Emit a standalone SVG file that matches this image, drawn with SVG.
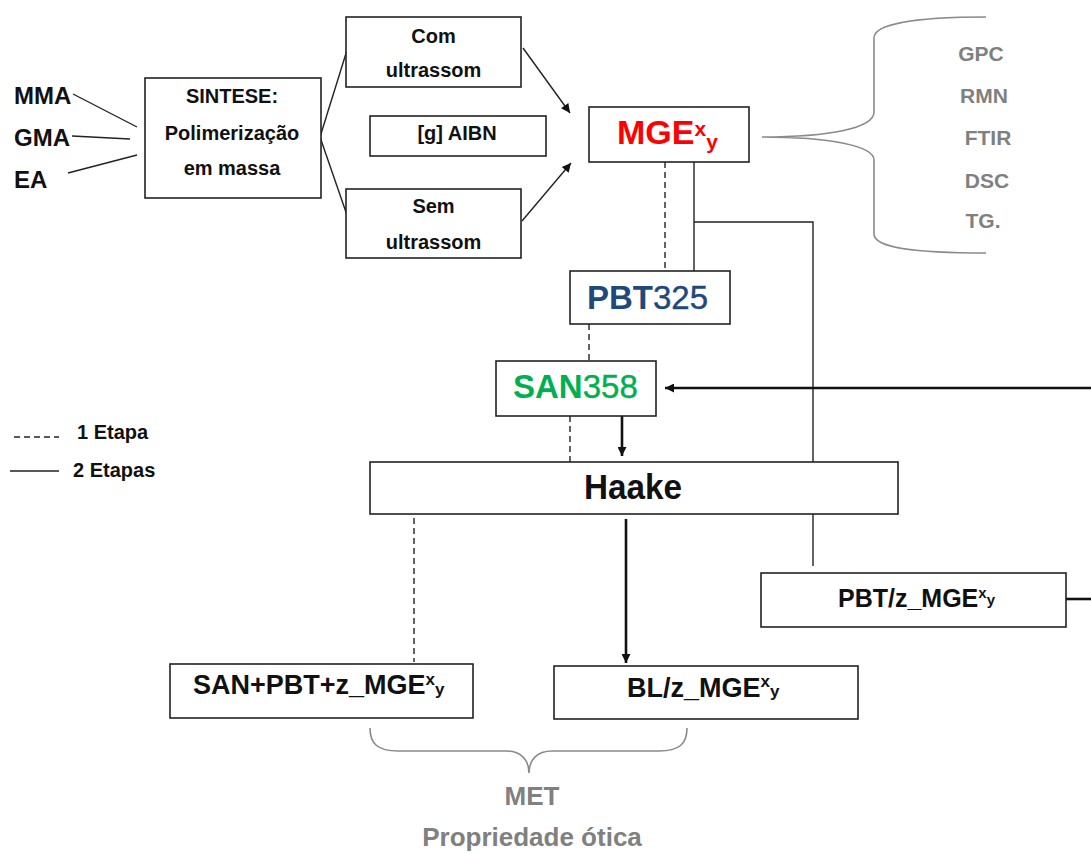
<svg xmlns="http://www.w3.org/2000/svg" width="1091" height="854" viewBox="0 0 1091 854">
<style>
text{font-family:"Liberation Sans",Arial,sans-serif;font-weight:bold;fill:#111}
.box{fill:#fff;stroke:#222;stroke-width:1.6}
.ln{fill:none;stroke:#222;stroke-width:1.4}
.dash{fill:none;stroke:#222;stroke-width:1.4;stroke-dasharray:6 4}
.thick{fill:none;stroke:#111;stroke-width:2.6}
.brace{fill:none;stroke:#8a8a8a;stroke-width:1.6}
.gray{fill:#808080}
.t20{font-size:20px}
.mid{text-anchor:middle}
.semi{font-weight:normal;stroke-width:0.4}
</style>
<defs>
<marker id="ah" viewBox="0 0 10 10" refX="10" refY="5" markerWidth="11" markerHeight="9" markerUnits="userSpaceOnUse" orient="auto"><path d="M0,0 L10,5 L0,10 z" fill="#111"/></marker>
</defs>

<g id="inputs">
<text x="14" y="104" font-size="24">MMA</text>
<text x="14" y="146" font-size="24">GMA</text>
<text x="14" y="188" font-size="24">EA</text>
</g>

<g id="legend">
<line x1="14" y1="437" x2="59" y2="437" class="dash"/>
<text x="77" y="439" class="t20">1 Etapa</text>
<line x1="10" y1="471" x2="59" y2="471" class="ln"/>
<text x="73" y="477" class="t20">2 Etapas</text>
</g>

<g id="connectors">
<line x1="73" y1="94" x2="137" y2="127" class="ln"/>
<line x1="72" y1="136" x2="130" y2="139" class="ln"/>
<line x1="68" y1="173" x2="137" y2="155" class="ln"/>
<line x1="320" y1="137" x2="348" y2="47" class="ln"/>
<line x1="320" y1="137" x2="348" y2="218" class="ln"/>
<line x1="523" y1="48" x2="570" y2="113" class="ln" marker-end="url(#ah)"/>
<line x1="522" y1="221" x2="571" y2="163" class="ln" marker-end="url(#ah)"/>
<line x1="665" y1="162" x2="665" y2="270" class="dash"/>
<line x1="694" y1="162" x2="694" y2="271" class="ln"/>
<path d="M694,222 L813,222 L813,462" class="ln"/>
<line x1="813" y1="514" x2="813" y2="566" class="ln"/>
<line x1="589" y1="324" x2="589" y2="361" class="dash"/>
<line x1="570" y1="416" x2="570" y2="462" class="dash"/>
<line x1="622" y1="416" x2="622" y2="456" class="thick" marker-end="url(#ah)"/>
<line x1="1091" y1="388" x2="665" y2="388" class="thick" marker-end="url(#ah)"/>
<line x1="1066" y1="599" x2="1091" y2="599" class="thick"/>
<line x1="414" y1="518" x2="414" y2="662" class="dash"/>
<line x1="626" y1="519" x2="626" y2="663" class="thick" marker-end="url(#ah)"/>
</g>

<g id="sintese">
<rect x="145" y="78" width="176" height="120" class="box"/>
<text x="232" y="103" class="t20 mid">SINTESE:</text>
<text x="232" y="140" class="t20 mid">Polimerização</text>
<text x="232" y="175" class="t20 mid">em massa</text>
</g>

<g id="com-ultrassom">
<rect x="346" y="17" width="175" height="70" class="box"/>
<text x="433.5" y="43" class="t20 mid">Com</text>
<text x="433.5" y="77" class="t20 mid">ultrassom</text>
</g>

<g id="aibn">
<rect x="370" y="116" width="176" height="40" class="box"/>
<text x="457" y="140" class="t20 mid">[g] AIBN</text>
</g>

<g id="sem-ultrassom">
<rect x="346" y="189" width="175" height="69" class="box"/>
<text x="433.5" y="213" class="t20 mid">Sem</text>
<text x="433.5" y="249" class="t20 mid">ultrassom</text>
</g>

<g id="mge">
<rect x="589" y="107" width="160" height="55" class="box"/>
<text x="617" y="144" font-size="34" style="fill:#ff0000">MGE<tspan font-size="21" dy="-8">x</tspan><tspan font-size="21" dy="13">y</tspan></text>
</g>

<g id="caracterizacao">
<path d="M986,17 C915,17 874,24 874,38 L874,112 C874,128 830,137 762,137 C830,137 874,146 874,160 L874,234 C874,248 915,253 986,253" class="brace"/>
<text x="981" y="61" font-size="21" class="gray mid">GPC</text>
<text x="984" y="103" font-size="21" class="gray mid">RMN</text>
<text x="988" y="145" font-size="21" class="gray mid">FTIR</text>
<text x="987" y="188" font-size="21" class="gray mid">DSC</text>
<text x="983" y="228" font-size="21" class="gray mid">TG.</text>
</g>

<g id="pbt325">
<rect x="570" y="271" width="160" height="53" class="box"/>
<text x="587" y="309" font-size="33" style="fill:#1f497d">PBT<tspan class="semi" style="fill:#1f497d;stroke:#1f497d">325</tspan></text>
</g>

<g id="san358">
<rect x="496" y="361" width="160" height="55" class="box"/>
<text x="513" y="398" font-size="33" style="fill:#00b050">SAN<tspan class="semi" style="fill:#00b050;stroke:#00b050">358</tspan></text>
</g>

<g id="haake">
<rect x="370" y="462" width="528" height="52" class="box"/>
<text x="584" y="499" font-size="35" textLength="98" lengthAdjust="spacingAndGlyphs">Haake</text>
</g>

<g id="pbt-z-mge">
<rect x="761" y="573" width="305" height="54" class="box"/>
<text x="838" y="607" font-size="25">PBT/z_MGE<tspan font-size="15" dy="-9">x</tspan><tspan font-size="15" dy="7">y</tspan></text>
</g>

<g id="san-pbt-z-mge">
<rect x="170" y="664" width="303" height="54" class="box"/>
<text x="193" y="694" font-size="27">SAN+PBT+z_MGE<tspan font-size="17" dy="-9">x</tspan><tspan font-size="17" dy="10">y</tspan></text>
</g>

<g id="bl-z-mge">
<rect x="554" y="666" width="304" height="53" class="box"/>
<text x="627" y="697" font-size="27">BL/z_MGE<tspan font-size="17" dy="-10">x</tspan><tspan font-size="17" dy="10">y</tspan></text>
</g>

<g id="analise">
<path d="M370,728 C370,744 378,751 398,751 L506,751 C521,751 529,760 529,773 C529,760 537,751 552,751 L659,751 C679,751 687,744 687,728" class="brace"/>
<text x="532" y="805" font-size="26" class="gray mid">MET</text>
<text x="532" y="846" font-size="26" class="gray mid">Propriedade ótica</text>
</g>
</svg>
